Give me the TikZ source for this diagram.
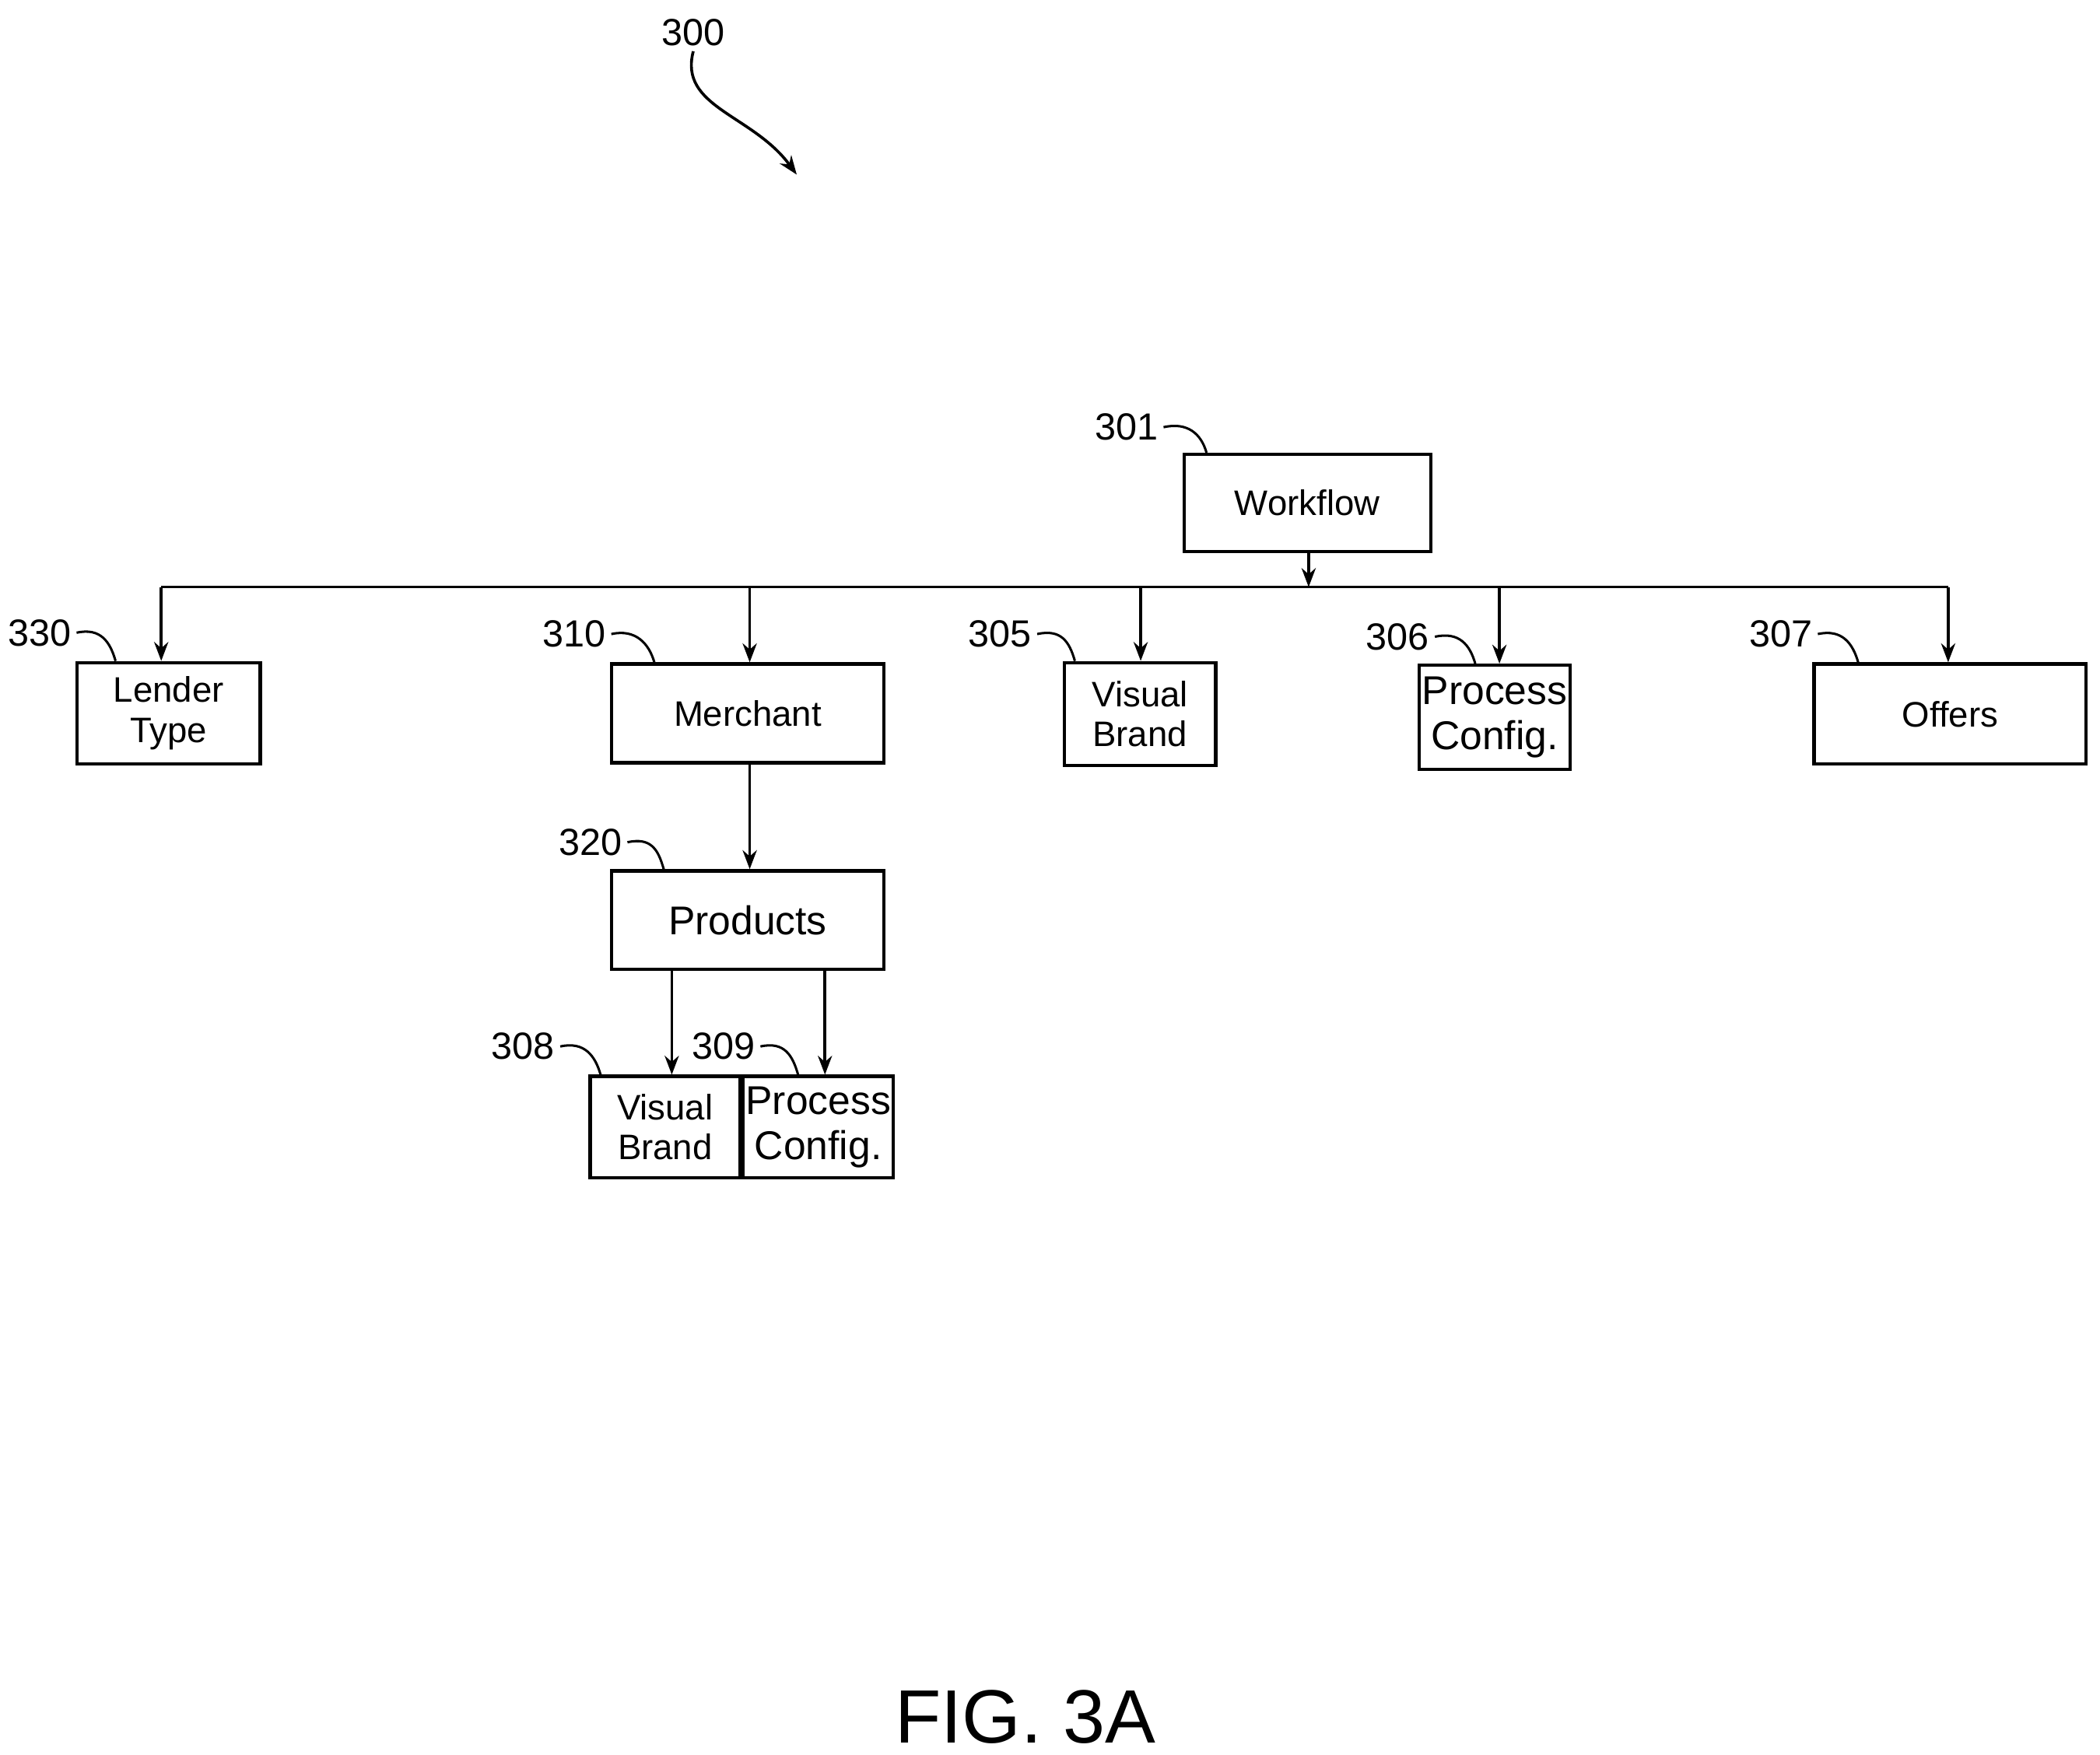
\documentclass[tikz,border=0pt]{standalone}
\usepackage{fontspec}
\setmainfont{Liberation Sans}
\usetikzlibrary{arrows.meta}
\begin{document}
\begin{tikzpicture}[x=0.01cm,y=-0.01cm,
 box/.style={draw,line width=0.7pt,inner sep=0pt,font=\fontsize{7.5}{8.5}\selectfont,align=center},
 big/.style={font=\fontsize{8.5}{9.5}\selectfont},
 arr/.style={line width=0.6pt,-{Stealth[length=4pt,width=3pt]}},
 lbl/.style={font=\fontsize{8}{9}\selectfont,inner sep=1pt},
 lead/.style={line width=0.5pt}]
\useasboundingbox (0,0) rectangle (1563,1306);
\newcommand{\bx}[7][]{\node[box,#1,minimum width=#5*0.01cm-0.7pt,minimum height=#6*0.01cm-0.7pt] (#2) at ({(#3+#5/2)},{(#4+#6/2)}) {#7};}
\bx{wf}{880}{337}{186}{75}{Workflow}
\bx{lt}{56}{492}{139}{78}{Lender\\Type}
\bx{me}{454}{493}{205}{76}{Merchant}
\bx{vb}{791}{492}{115}{79}{Visual\\Brand}
\bx[big]{pc}{1055}{494}{115}{80}{Process\\Config.}
\bx{of}{1349}{493}{205}{77}{Offers}
\bx[big]{pr}{454}{647}{205}{76}{Products}
\bx{vb2}{438}{800}{114}{78}{Visual\\Brand}
\bx[big]{pc2}{552}{800}{114}{78}{Process\\Config.}
\coordinate (bl) at (120,437);
\coordinate (br) at (1450,437);
\coordinate (bm) at (974,437);
\draw[arr] (wf.south -| bm) -- (bm);
\draw[line width=0.6pt] (bl) -- (br);
\draw[arr] (bl) -- (bl |- lt.north);
\draw[arr] (558,437) -- (558,493);
\draw[arr] (849,437) -- (849,492);
\draw[arr] (1116,437) -- (1116,494);
\draw[arr] (br) -- (br |- of.north);
\draw[arr] (558,569) -- (558,647);
\draw[arr] (500,723) -- (500,800);
\draw[arr] (614,723) -- (614,800);
\node[lbl] (l300) at (516,24) {300};
\coordinate (a300) at (593,130);
\draw[arr] (l300.south) .. controls (505,80) and (560,85) .. (a300);
\newcommand{\ld}[4]{\node[lbl,anchor=east] (#1) at (#2) {#3}; \draw[lead] (#1.east) .. controls +(18,-4) and +(-4,-14) .. (#4);}
\ld{l301}{866,318}{301}{898,337}
\ld{l330}{57,471}{330}{86,492}
\ld{l310}{455,472}{310}{487,493}
\ld{l305}{772,472}{305}{800,492}
\ld{l306}{1068,474}{306}{1098,494}
\ld{l307}{1353,472}{307}{1383,493}
\ld{l320}{467,627}{320}{494,647}
\ld{l308}{417,779}{308}{447,800}
\ld{l309}{566,779}{309}{594,800}
\node[font=\fontsize{16}{19}\selectfont] (fig) at (763,1278) {FIG. 3A};
\end{tikzpicture}
\end{document}
